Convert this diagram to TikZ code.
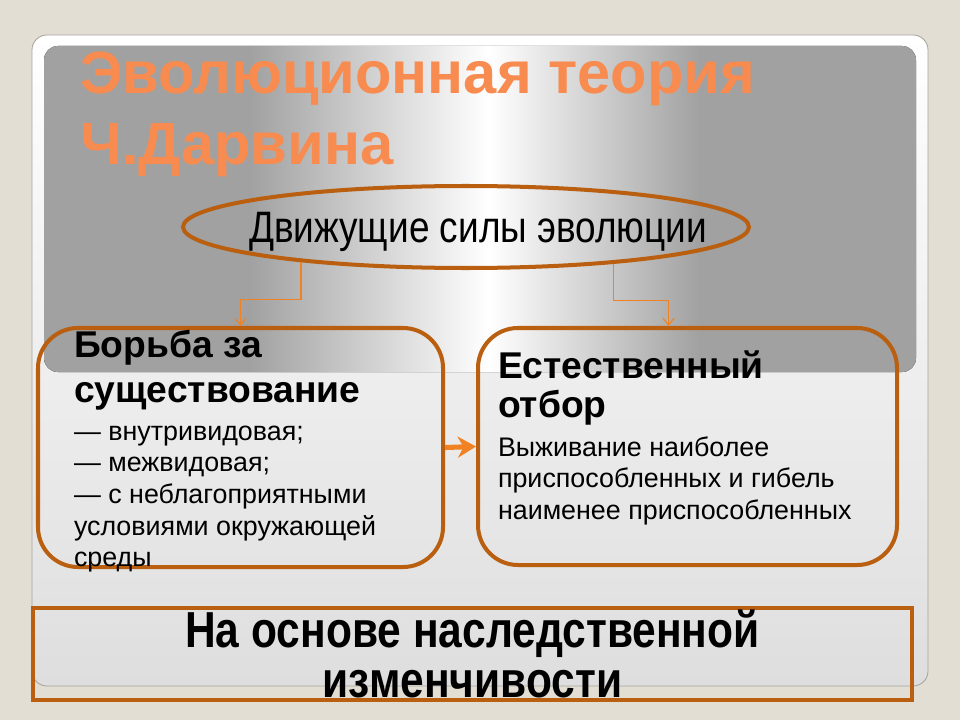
\documentclass[tikz,border=0pt]{standalone}
\usepackage{fontspec}
\setmainfont{Liberation Sans}
\newfontfamily\narrowsans[FakeStretch=0.84]{Liberation Sans}
\usetikzlibrary{shapes.geometric,arrows.meta}

\definecolor{slidebg}{RGB}{227,222,212}
\definecolor{cardline}{RGB}{165,163,155}
\definecolor{cardgray}{RGB}{222,222,222}
\definecolor{bannergray}{RGB}{161,161,161}
\definecolor{boxbrown}{RGB}{185,95,15}
\definecolor{linkorange}{RGB}{240,130,35}
\definecolor{titleorange}{RGB}{248,140,80}

\pgfdeclarehorizontalshading{bannershade}{100bp}{color(0bp)=(bannergray); color(36.8bp)=(bannergray); color(50.5bp)=(white); color(62.6bp)=(bannergray); color(100bp)=(bannergray)}

\newcommand\headfont{\fontsize{26.5pt}{32pt}\selectfont\bfseries\spaceskip=0pt\relax}
\newcommand\bodyfont{\fontsize{19.1pt}{22.5pt}\selectfont\mdseries\spaceskip=0pt\relax}

\tikzset{
	roundbox/.style={draw=boxbrown, line width=2.85pt, rounded corners=1cm, align=left, inner ysep=0, font=\bodyfont},
	link/.style={draw=linkorange, line width=0.8pt, -{Straight Barb[length=5pt,width=8pt]}},
	fatarrow/.style={draw=linkorange, line width=3.6pt, -{Stealth[length=13pt,width=15pt]}}
}

\begin{document}
\begin{tikzpicture}
	%%%%% START %%%%%
	
	\useasboundingbox (0, 0) rectangle (24, 18);
	\fill[slidebg] (0, 0) rectangle (24, 18);
	
	\draw[cardline, line width=0.6pt, top color=white, bottom color=cardgray, rounded corners=0.375cm] (0.8, 0.85) rectangle (23.2, 17.125);
	\fill[shading=bannershade, rounded corners=0.35cm] (1.1, 8.7) rectangle (22.9, 16.85);
	
	\node[anchor=base west, inner sep=0, align=left, text=titleorange, font=\fontsize{42.4pt}{51.2pt}\selectfont\bfseries] (title) at (2.0, 13.875) {Эволюционная теория\\Ч.Дарвина};
	
	\node[ellipse, draw=boxbrown, line width=2.85pt, minimum width=14.15cm, minimum height=2.05cm, inner xsep=-1.4cm, inner ysep=0, text depth=0pt, font=\narrowsans\fontsize{31.3pt}{36pt}\selectfont] (drives) at (11.65, 12.325) {\hspace*{0.6cm}Движущие силы эволюции};
	
	\node[roundbox, minimum height=5.975cm, text width=8.325cm, inner xsep=0.9cm, text depth=5.16cm] (struggle) at (6.0125, 6.8125) {\headfont Борьба за\\ существование\\[4pt] \bodyfont — внутривидовая;\\ — межвидовая;\\ — с неблагоприятными\\ условиями окружающей\\ среды};
	\node[roundbox, minimum height=5.925cm, text width=9.475cm, inner xsep=0.5cm, text depth=4.11cm] (selection) at (17.1875, 6.8375) {\headfont Естественный\\[-3.9pt] отбор\\[5pt] \bodyfont Выживание наиболее\\ приспособленных и гибель\\ наименее приспособленных};
	
	\node[draw=boxbrown, line width=2.85pt, minimum width=21.975cm, minimum height=2.3cm, inner sep=0, align=center, font=\narrowsans\fontsize{36pt}{36pt}\selectfont\bfseries] (heredity) at (11.8125, 1.65) {На основе наследственной\\изменчивости};
	
	\draw[link] (drives.192) -- ++(0, -0.925) -| (struggle.north);
	\draw[link] (drives.346) -- ++(0, -0.925) -| ([xshift=-0.475cm]selection.north);
	\draw[fatarrow] (struggle.east) -- (selection.west);
	
	%%%%% END %%%%%
\end{tikzpicture}
\end{document}
